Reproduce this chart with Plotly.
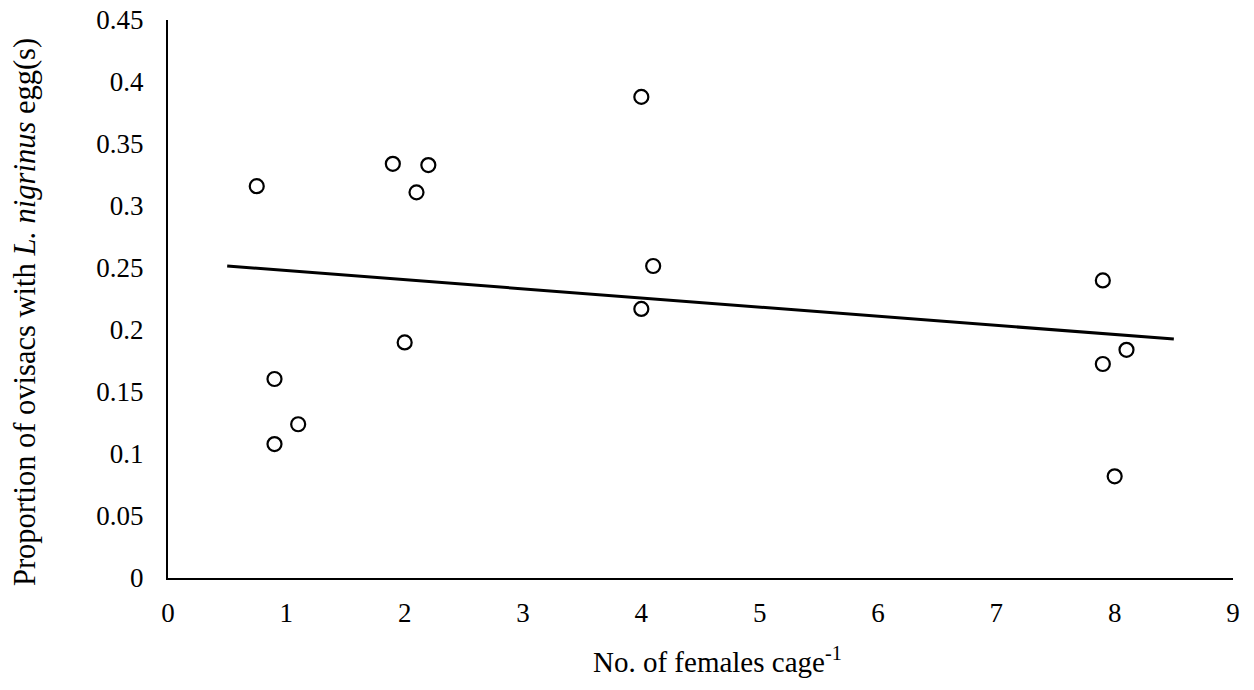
import plotly.graph_objects as go

# Data
x_vals = [0.75, 0.9, 0.9, 1.1, 1.9, 2.1, 2.2, 2.0, 4.0, 4.1, 4.0, 7.9, 7.9, 8.1, 8.0]
y_vals = [0.316, 0.1605, 0.108, 0.124, 0.334, 0.311, 0.333, 0.190, 0.388, 0.2516, 0.217, 0.240, 0.1726, 0.184, 0.082]

trend_x = [0.5, 8.5]
trend_y = [0.2516, 0.1927]

x_ticks = [0, 1, 2, 3, 4, 5, 6, 7, 8, 9]
y_ticks = [0, 0.05, 0.1, 0.15, 0.2, 0.25, 0.3, 0.35, 0.4, 0.45]
y_ticktext = ["0", "0.05", "0.1", "0.15", "0.2", "0.25", "0.3", "0.35", "0.4", "0.45"]

x_title = "No. of females cage<sup>-1</sup>"
y_title = "Proportion of ovisacs with <i>L. nigrinus</i> egg(s)"

FONT = "Liberation Serif, Times New Roman, serif"

fig = go.Figure()
fig.add_trace(go.Scatter(
    x=trend_x, y=trend_y, mode="lines",
    line=dict(color="black", width=3), showlegend=False, hoverinfo="skip"))
fig.add_trace(go.Scatter(
    x=x_vals, y=y_vals, mode="markers",
    marker=dict(symbol="circle-open", size=14, color="black", line=dict(width=2.2, color="black")),
    showlegend=False))

fig.update_layout(
    width=1238, height=674,
    margin=dict(l=160, r=13, t=12, b=104, autoexpand=False),
    paper_bgcolor="white", plot_bgcolor="white",
    font=dict(family=FONT, size=27, color="black"),
    xaxis=dict(
        range=[0, 9], tickvals=x_ticks, showgrid=False, zeroline=False,
        showline=True, linecolor="black", linewidth=2, ticks="",
        ticklabelstandoff=10, automargin=False, ticklabeloverflow="allow",
        tickfont=dict(family=FONT, size=27, color="black"),
    ),
    yaxis=dict(
        range=[0, 0.45], tickvals=y_ticks, ticktext=y_ticktext, showgrid=False, zeroline=False,
        showline=True, linecolor="black", linewidth=2, ticks="",
        ticklabelstandoff=17, automargin=False, ticklabeloverflow="allow",
        tickfont=dict(family=FONT, size=27, color="black"),
    ),
    annotations=[
        dict(text=x_title, xref="paper", yref="paper", x=0.516, y=-0.147,
             xanchor="center", yanchor="middle", showarrow=False,
             font=dict(family=FONT, size=29, color="black")),
        dict(text=y_title, xref="paper", yref="paper", x=-0.1341, y=0.477,
             xanchor="center", yanchor="middle", showarrow=False, textangle=-90,
             font=dict(family=FONT, size=30.5, color="black")),
    ],
)

fig.write_html("out.html")
